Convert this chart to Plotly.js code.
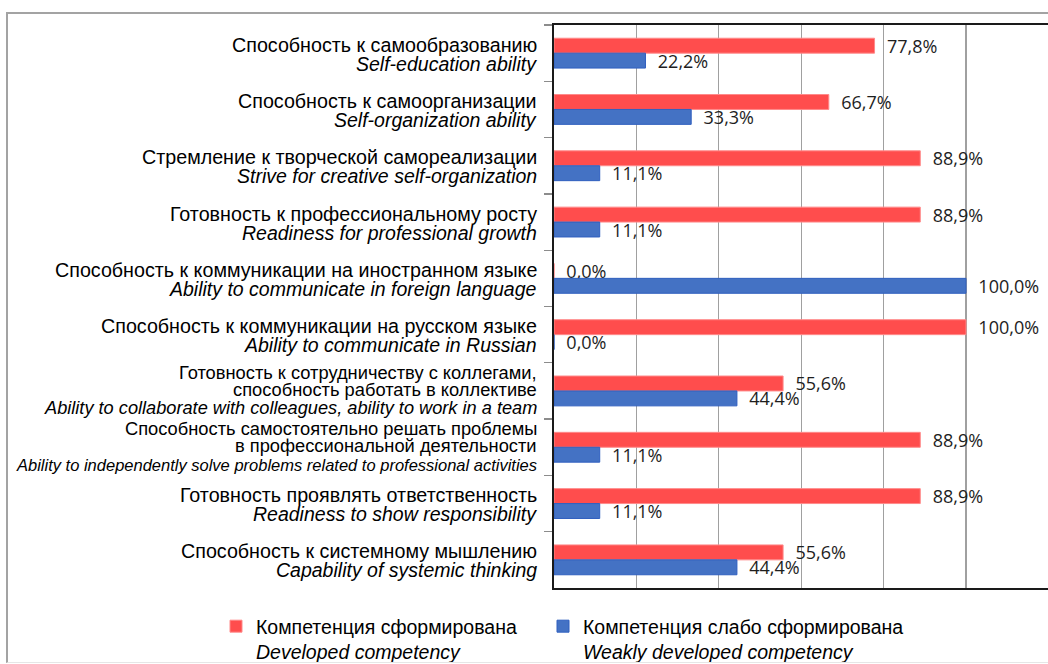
<!DOCTYPE html>
<html>
<head>
<meta charset="utf-8">
<script src="https://cdn.plot.ly/plotly-3.0.1.min.js"></script>
<style>
  html, body { margin: 0; padding: 0; background: #fff; overflow: hidden; }
  #wrap { position: relative; width: 1048px; height: 664px; }
  #chart { width: 1048px; height: 664px; }
  #frame { position: absolute; left: 6px; top: 12px; width: 2000px; height: 648px;
           border-left: 2px solid #a3a3a3; border-top: 2px solid #a3a3a3; border-bottom: 1px solid #e6e6e6;
           pointer-events: none; }
</style>
</head>
<body>
<div id="wrap">
  <div id="chart"></div>
  <div id="frame"></div>
</div>
<script>
// ---- data ----
const ruLabels = [
  'Способность к самообразованию',
  'Способность к самоорганизации',
  'Стремление к творческой самореализации',
  'Готовность к профессиональному росту',
  'Способность к коммуникации на иностранном языке',
  'Способность к коммуникации на русском языке',
  'Готовность к сотрудничеству с коллегами,\nспособность работать в коллективе',
  'Способность самостоятельно решать проблемы\nв профессиональной деятельности',
  'Готовность проявлять ответственность',
  'Способность к системному мышлению'
];
const enLabels = [
  'Self-education ability',
  'Self-organization ability',
  'Strive for creative self-organization',
  'Readiness for professional growth',
  'Ability to communicate in foreign language',
  'Ability to communicate in Russian',
  'Ability to collaborate with colleagues, ability to work in a team',
  'Ability to independently solve problems related to professional activities',
  'Readiness to show responsibility',
  'Capability of systemic thinking'
];
const developed = [77.8, 66.7, 88.9, 88.9, 0.0, 100.0, 55.6, 88.9, 88.9, 55.6];
const weak      = [22.2, 33.3, 11.1, 11.1, 100.0, 0.0, 44.4, 11.1, 11.1, 44.4];
const seriesNames = [
  'Компетенция сформирована<br><i>Developed competency</i>',
  'Компетенция слабо сформирована<br><i>Weakly developed competency</i>'
];

// ---- styling ----
const RED = '#ff4d4d', BLUE = '#4472c4';
const labelFont = 'Liberation Sans, Arial, sans-serif';
const valueFont = 'Open Sans, sans-serif';

const traces = [
  { type: 'bar', orientation: 'h', name: seriesNames[0], y: enLabels, x: developed, legend: 'legend',
    marker: { color: RED, line: { color: '#ff8a8a', width: 1 } },
    texttemplate: '\u00a0\u00a0%{x:.1f}%', textposition: 'outside', constraintext: 'none', cliponaxis: false,
    textfont: { family: valueFont, size: 18, color: '#1e1e1e' }, hoverinfo: 'x+y' },
  { type: 'bar', orientation: 'h', name: seriesNames[1], y: enLabels, x: weak, legend: 'legend2',
    marker: { color: BLUE, line: { color: '#2f5fbf', width: 1 } },
    texttemplate: '\u00a0\u00a0%{x:.1f}%', textposition: 'outside', constraintext: 'none', cliponaxis: false,
    textfont: { family: valueFont, size: 18, color: '#1e1e1e' }, hoverinfo: 'x+y' }
];

// per-line vertical offsets (px, downward from category centre) and font sizes of label lines
function lineStyle(n, i) {
  if (n === 2) return { offs: [-8.5, 10.5], sizes: [19.7, 19.5] };
  if (i === 6) return { offs: [-18, -1, 17], sizes: [18.3, 18.3, 18.2] };
  return { offs: [-19, -2, 18], sizes: [18.3, 18.3, 16.5] };
}

const annotations = [];
enLabels.forEach((en, i) => {
  const lines = ruLabels[i].split('\n').map(s => ({ t: s, it: false })).concat([{ t: en, it: true }]);
  const st = lineStyle(lines.length, i);
  lines.forEach((ln, k) => {
    annotations.push({
      xref: 'paper', x: 0, xanchor: 'right', xshift: -15,
      yref: 'y', y: en, yanchor: 'middle', yshift: -st.offs[k],
      text: ln.it ? '<i>' + ln.t + '</i>' : ln.t,
      showarrow: false, align: 'right',
      font: { family: labelFont, size: st.sizes[k], color: '#000' }
    });
  });
});

function legendAt(leftPx) {
  return {
    orientation: 'h',
    x: (leftPx - 554) / 494, xanchor: 'left', y: (588 - 607) / 563, yanchor: 'top',
    valign: 'top', font: { family: labelFont, size: 19.5, color: '#000' },
    itemwidth: 30, bgcolor: 'rgba(0,0,0,0)', borderwidth: 0
  };
}

const layout = {
  width: 1048, height: 664,
  margin: { l: 554, r: 0, t: 25, b: 76, pad: 0, autoexpand: false },
  paper_bgcolor: '#fff', plot_bgcolor: '#fff',
  separators: ', ',
  barmode: 'group', bargap: 0.47, bargroupgap: 0,
  showlegend: true,
  legend: legendAt(216),
  legend2: legendAt(543),
  xaxis: {
    range: [0, 119.9], dtick: 20, tick0: 0, showticklabels: false,
    showgrid: true, gridcolor: '#a0a0a0', gridwidth: 1.3, zeroline: false,
    showline: true, linecolor: '#1a1a1a', linewidth: 2, mirror: true, ticks: '', fixedrange: true
  },
  yaxis: {
    type: 'category', autorange: 'reversed', showticklabels: false,
    showline: true, linecolor: '#1a1a1a', linewidth: 2,
    ticks: 'outside', tickson: 'boundaries', ticklen: 8, tickcolor: '#8c8c8c', tickwidth: 1.3,
    showgrid: false, zeroline: false, fixedrange: true
  },
  annotations: annotations,
  font: { family: labelFont }
};

Plotly.newPlot('chart', traces, layout, { displayModeBar: false, staticPlot: true });
</script>
</body>
</html>
